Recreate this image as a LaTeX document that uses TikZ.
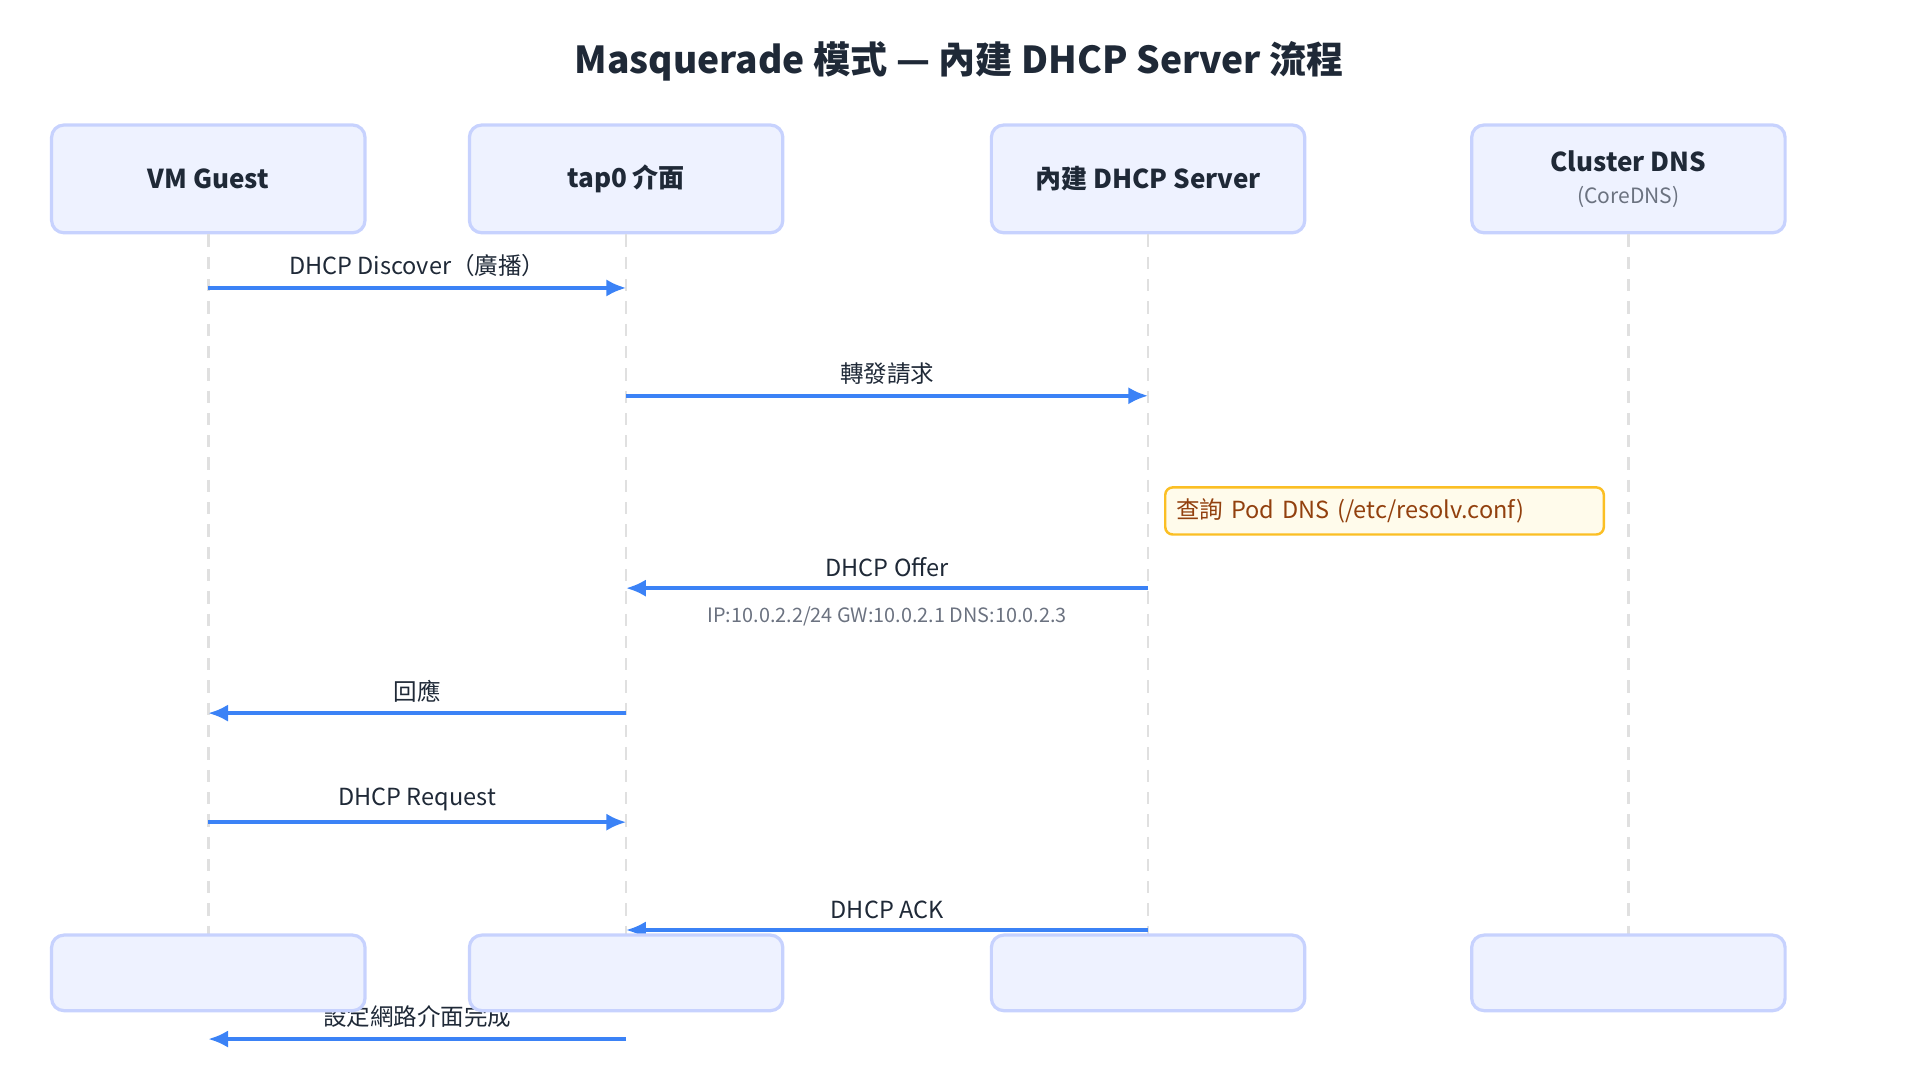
\documentclass[tikz,border=0pt]{standalone}
\usepackage{fontspec}
\setmainfont{Noto Sans CJK TC}
\usetikzlibrary{arrows.meta,calc}
\definecolor{boxfill}{HTML}{EEF2FF}
\definecolor{boxline}{HTML}{C7D2FE}
\definecolor{msgblue}{HTML}{3B82F6}
\definecolor{notefill}{HTML}{FFFBEB}
\definecolor{noteline}{HTML}{FBBF24}
\definecolor{notetext}{HTML}{92400E}
\definecolor{subgray}{HTML}{6B7280}
\definecolor{titlecol}{HTML}{1F2937}
\tikzset{
  actor/.style={draw=boxline, line width=1.3pt, fill=boxfill, rounded corners=5pt,
    minimum width=126.5pt, minimum height=43.5pt, font=\fontsize{10.5}{12}\selectfont\bfseries, text=titlecol},
  foot/.style={actor, minimum height=30.5pt},
  life/.style={draw=black!12, line width=1pt, dash pattern=on 5pt off 4pt},
  msg/.style={draw=msgblue, line width=1.4pt, -{Latex[length=8pt,width=7pt]}},
  lbl/.style={font=\fontsize{9.5}{11}\selectfont, text=titlecol},
  sub/.style={font=\fontsize{8}{10}\selectfont, text=subgray},
}
\begin{document}
\begin{tikzpicture}[x=0.4945pt, y=-0.4945pt]
  \useasboundingbox (0,0) rectangle (1567,886);
  \node[font=\fontsize{15}{18}\selectfont\bfseries, text=titlecol] (title) at (783,50) {Masquerade 模式 — 內建 DHCP Server 流程};
  % Actors
  \node[actor] (vm) at (170,146) {VM Guest};
  \node[actor] (tap) at (511,146) {tap0 介面};
  \node[actor] (dhcp) at (937,146) {內建 DHCP Server};
  \node[actor, align=center] (dns) at (1329,146) {Cluster DNS\\[1pt]{\fontsize{8.5}{10}\selectfont\mdseries\color{subgray}(CoreDNS)}};
  % Lifelines
  \foreach \a in {vm,tap,dhcp,dns}{
    \coordinate (\a top) at (\a.south);
    \path (\a top) ++(0,573) coordinate (\a bot);
    \draw[life] (\a top) -- (\a bot);
  }
  % Messages
  \foreach \y/\f/\t/\n in {235/vm/tap/m1, 323/tap/dhcp/m2, 480/dhcp/tap/m3, 582/tap/vm/m4,
                           671/vm/tap/m5, 759/dhcp/tap/m6, 848/tap/vm/m7}{
    \path (\f top |- 0,\y) coordinate (\n s);
    \path (\t top |- 0,\y) coordinate (\n e);
    \draw[msg] (\n s) -- (\n e);
  }
  \node[lbl, anchor=south] (l1) at ($(m1s)!0.5!(m1e)+(0,-2)$) {DHCP Discover（廣播）};
  \node[lbl, anchor=south] (l2) at ($(m2s)!0.5!(m2e)+(0,-2)$) {轉發請求};
  \node[lbl, anchor=south] (l3) at ($(m3s)!0.5!(m3e)+(0,-2)$) {DHCP Offer};
  \node[sub, anchor=north] (l3b) at ($(m3s)!0.5!(m3e)+(0,8)$) {IP:10.0.2.2/24 GW:10.0.2.1 DNS:10.0.2.3};
  \node[lbl, anchor=south] (l4) at ($(m4s)!0.5!(m4e)+(0,-2)$) {回應};
  \node[lbl, anchor=south] (l5) at ($(m5s)!0.5!(m5e)+(0,-2)$) {DHCP Request};
  \node[lbl, anchor=south] (l6) at ($(m6s)!0.5!(m6e)+(0,-2)$) {DHCP ACK};
  \node[lbl, anchor=south] (l7) at ($(m7s)!0.5!(m7e)+(0,-2)$) {設定網路介面完成};
  % Note
  \node[draw=noteline, line width=1pt, fill=notefill, rounded corners=3pt, anchor=west,
    minimum width=177pt, minimum height=19pt, text=notetext, font=\fontsize{9.5}{11}\selectfont,
    text width=168pt, align=left] (note) at (950,417) {查詢 Pod DNS (/etc/resolv.conf)};
  % Feet
  \foreach \a in {vm,tap,dhcp,dns}{
    \node[foot] (\a foot) at (\a top |- 0,794) {};
  }
\end{tikzpicture}
\end{document}
